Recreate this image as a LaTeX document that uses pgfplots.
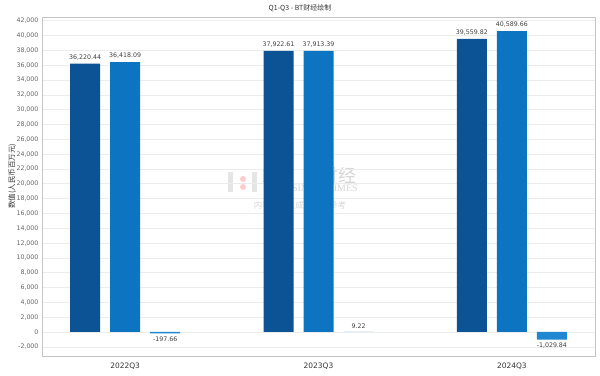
\documentclass[border=0pt]{standalone}
\usepackage{pgfplots}
\pgfplotsset{compat=1.18}
\usepackage{fontspec}
\setmainfont{DejaVu Sans}
\newfontfamily\cjk{Noto Sans CJK SC}
\newfontfamily\wserif{Liberation Serif}
\definecolor{c1}{HTML}{0B5394}
\definecolor{c2}{HTML}{0C74C0}
\definecolor{c3}{HTML}{2088D2}
\definecolor{gridc}{HTML}{ECECEC}
\definecolor{axc}{HTML}{C4C4C4}
\definecolor{tickc}{HTML}{666666}
\begin{document}
\begin{tikzpicture}[x=1bp,y=1bp]
\path[use as bounding box] (0,0) rectangle (600,375);
% watermark (behind the bars)
\node[font=\wserif\fontsize{19}{20}\selectfont, color=black!16] at (276,199) {B T};
\node[font=\cjk\fontsize{18}{19}\selectfont, color=black!16] at (338,199) {财经};
\node[font=\wserif\fontsize{10}{11}\selectfont, color=black!16] at (318,187) {BUSINESS TIMES};
\node[font=\cjk\fontsize{8.5}{9}\selectfont, color=black!16] at (300,170) {内容由AI生成，仅供参考};
\fill[black!10] (228,183) rectangle (233,203);
\fill[red!20] (243,196) circle (3);
\fill[red!20] (243,188) circle (3);
\fill[black!10] (252,183) rectangle (257,203);
\begin{axis}[
  at={(42bp,19bp)}, anchor=south west,
  scale only axis, width=553bp, height=339bp,
  xmin=-0.43, xmax=2.43, ymin=-3240, ymax=42500,
  ybar=10bp, bar width=30bp,
  xtick={0,1,2}, xticklabels={2022Q3,2023Q3,2024Q3},
  ytick={-2000,0,...,42000},
  scaled y ticks=false,
  /pgf/number format/assume math mode=true,
  yticklabel style={font=\fontsize{6.3}{7}\selectfont, color=tickc,
     /pgf/number format/fixed, /pgf/number format/1000 sep={,}},
  xticklabel style={font=\fontsize{7.5}{8}\selectfont, color=black!80, yshift=-3bp},
  major tick length=0pt,
  ymajorgrids, grid style={gridc, line width=0.6pt},
  axis line style={axc, line width=0.8pt},
  ylabel={\cjk 数值(人民币百万元)},
  ylabel style={font=\fontsize{7.5}{8}\selectfont, color=black!80, anchor=center, at={(axis description cs:-0.054,0.53)}},
  nodes near coords,
  nodes near coords style={font=\fontsize{6.3}{7}\selectfont, color=black!75,
     /pgf/number format/fixed, /pgf/number format/fixed zerofill,
     /pgf/number format/precision=2, /pgf/number format/1000 sep={,}},
  clip=false,
]
\addplot[fill=c1, draw=none] coordinates {(0,36220.44) (1,37922.61) (2,39559.82)};
\addplot[fill=c2, draw=none] coordinates {(0,36418.09) (1,37913.39) (2,40589.66)};
\addplot[fill=c3, draw=none] coordinates {(0,-197.66) (1,9.22) (2,-1029.84)};
\end{axis}
\node[font=\cjk\fontsize{7}{8}\selectfont, color=black!80] at (300,367) {Q1-Q3 - BT财经绘制};
\end{tikzpicture}
\end{document}
